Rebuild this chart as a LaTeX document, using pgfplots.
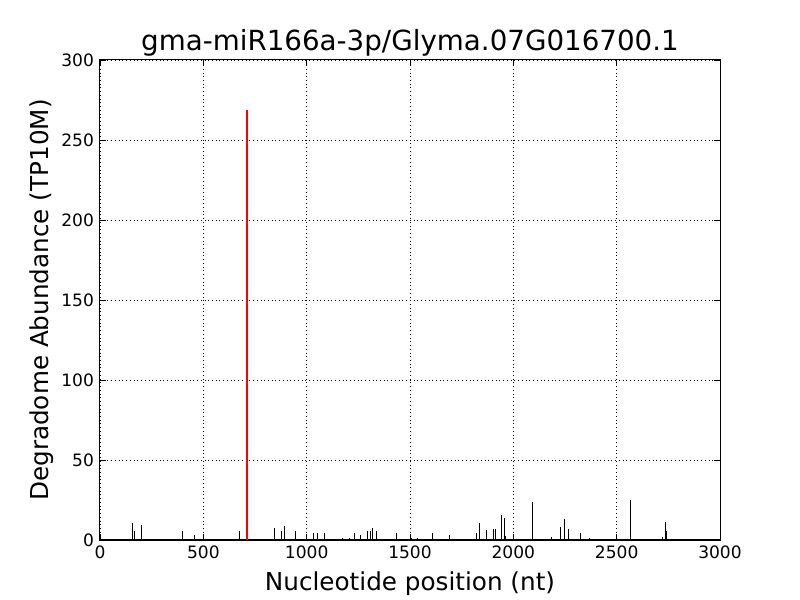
\documentclass[border=0pt]{standalone}
\usepackage{fontspec}
\setmainfont{DejaVu Sans}
\usepackage{pgfplots}
\pgfplotsset{compat=1.18}

\begin{document}
\begin{tikzpicture}
\path[use as bounding box] (-75pt,-45pt) rectangle (525pt,405pt);
\begin{axis}[
  scale only axis,
  width=465pt, height=360pt,
  xmin=0, xmax=3000, ymin=0, ymax=300,
  xtick={0,500,...,3000},
  ytick={0,50,...,300},
  tick align=inside,
  major tick length=4.5pt,
  tick style={black, line width=0.6pt},
  axis line style={line width=0.75pt},
  grid=major,
  grid style={black, dash pattern=on 0.6pt off 2.2pt, line width=0.6pt},
  /pgf/number format/assume math mode=true,
  /pgf/number format/set thousands separator={},
  tick label style={font=\fontsize{12.8}{14}\selectfont},
  xticklabel style={yshift=-1pt},
  yticklabel style={xshift=-1pt},
  xlabel={Nucleotide position (nt)},
  ylabel={Degradome Abundance (TP10M)},
  label style={font=\fontsize{18.5}{21}\selectfont},
  xlabel style={yshift=-3pt},
  ylabel style={yshift=-1pt},
  title={gma-miR166a-3p/Glyma.07G016700.1},
  title style={font=\fontsize{20.8}{24}\selectfont, yshift=-6.5pt},
]
\addplot[ycomb, black, line width=0.75pt, mark=none] coordinates {
(156,10.4) (166,5.8) (203,9.4) (364,0.5) (398,5.8) (458,3.1) (677,5.8)
(842,7.3) (876,5.4) (892,8.5) (926,0.5) (945,5.8)
(1032,4.2) (1052,4.6) (1086,4.6) (1173,1.0) (1206,1.0) (1231,4.6)
(1260,2.9) (1293,5.8) (1308,5.8) (1317,7.3) (1339,5.4) (1366,0.5)
(1434,4.6) (1508,1.5) (1535,1.0) (1609,4.6) (1690,3.3)
(1821,4.2) (1834,10.4) (1869,6.5) (1906,7.1) (1912,6.7)
(1942,15.4) (1957,13.8) (1963,2.5)
(2095,24.0) (2185,1.7) (2229,7.9) (2250,12.9) (2266,6.7) (2327,4.6) (2368,1.0)
(2569,24.8) (2609,0.5) (2626,0.5) (2721,2.1) (2735,11.5) (2740,5.6)
};
\addplot[ycomb, red, line width=1.5pt, mark=none] coordinates {(710,268.8)};
\end{axis}
\end{tikzpicture}
\end{document}
